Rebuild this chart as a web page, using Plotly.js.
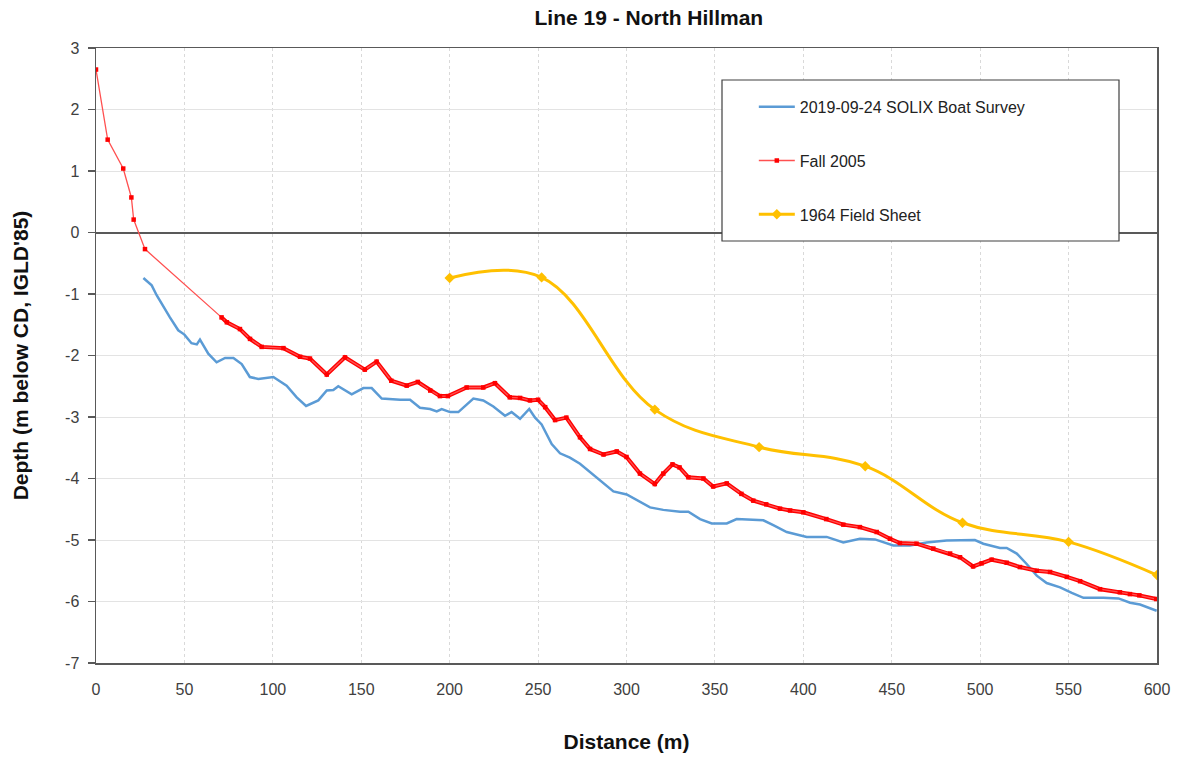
<!DOCTYPE html>
<html>
<head>
<meta charset="utf-8">
<script src="https://cdn.plot.ly/plotly-3.0.1.min.js"></script>
<style>html,body{margin:0;padding:0;background:#fff;}#chart{width:1184px;height:759px;}</style>
</head>
<body>
<div id="chart"></div>
<script>
// Distance (m) and depth (m below CD, IGLD'85)
const solixDistance = [26.8,31.5,34.3,37.1,41.8,46.5,50,54,57,58.8,63.5,68.2,73,77.7,82.4,87,91.8,100.3,107.8,113.5,118.8,125.7,130.5,134.2,137,144.6,151.2,155.9,161.6,172,177.6,183.2,188.9,192.7,195.5,200.2,204.9,213.4,219,224.7,231.3,235,239.8,245,248.3,252,254.8,257.7,262.4,268,273.7,278.4,285,292.6,300.1,307.6,313.3,320.8,330.3,335,341.6,348.2,356.7,362.3,369.8,377.4,383,390.6,401.9,413.2,422.6,432,440.5,450.9,460.3,469.7,481,488.6,497,501.8,511.2,515,520.7,526.3,532,537.6,545.2,551.8,558.4,569.7,578.2,584.8,590.4,599.8];
const solixDepth = [-0.74,-0.86,-1.02,-1.16,-1.38,-1.59,-1.66,-1.8,-1.82,-1.74,-1.97,-2.11,-2.04,-2.04,-2.14,-2.35,-2.38,-2.35,-2.49,-2.68,-2.82,-2.73,-2.57,-2.56,-2.5,-2.63,-2.53,-2.53,-2.7,-2.72,-2.72,-2.85,-2.87,-2.91,-2.87,-2.92,-2.92,-2.7,-2.73,-2.83,-2.98,-2.92,-3.03,-2.87,-3.01,-3.12,-3.27,-3.44,-3.59,-3.66,-3.76,-3.87,-4.03,-4.21,-4.26,-4.38,-4.47,-4.51,-4.54,-4.54,-4.66,-4.73,-4.73,-4.66,-4.67,-4.68,-4.76,-4.87,-4.95,-4.95,-5.04,-4.98,-4.99,-5.09,-5.09,-5.04,-5.01,-5.01,-5.0,-5.06,-5.13,-5.13,-5.22,-5.39,-5.58,-5.70,-5.77,-5.86,-5.94,-5.94,-5.95,-6.02,-6.05,-6.15];

const fall2005Distance = [0,6.6,15.4,20,21.3,27.7,71,74,81.4,87.1,93.7,106,115.4,121,130.5,140.8,152,158.7,167,175.7,182,189,194.5,199,209.6,219,225.6,234,239.8,245.4,250,254,259.6,266,273.7,279.4,287,294.5,300,307.6,316,320.8,326,330,335,343.5,349,356.7,365,371.7,379,386.8,392.5,400,413,422.6,432,441.5,449,454.6,464,473.5,483,488.6,496,500.8,506.5,515,522.5,532,539.5,549,556.5,567.8,579,584.7,590,599.6];
const fall2005Depth = [2.65,1.51,1.04,0.57,0.21,-0.27,-1.38,-1.46,-1.57,-1.73,-1.86,-1.88,-2.02,-2.05,-2.31,-2.03,-2.23,-2.1,-2.41,-2.49,-2.43,-2.57,-2.66,-2.66,-2.52,-2.52,-2.45,-2.68,-2.69,-2.73,-2.72,-2.84,-3.05,-3.01,-3.33,-3.52,-3.61,-3.56,-3.65,-3.92,-4.09,-3.92,-3.77,-3.82,-3.98,-4.0,-4.13,-4.08,-4.25,-4.36,-4.42,-4.49,-4.52,-4.55,-4.66,-4.75,-4.79,-4.87,-4.98,-5.05,-5.06,-5.14,-5.22,-5.28,-5.43,-5.38,-5.32,-5.37,-5.44,-5.5,-5.52,-5.6,-5.67,-5.8,-5.85,-5.88,-5.9,-5.96];
const fall2005DenseStart = 6; // survey becomes dense from 71 m

const field1964Distance = [200,252,316,375,435,490,550,600];
const field1964Depth = [-0.74,-0.73,-2.88,-3.49,-3.8,-4.72,-5.03,-5.57];

const yTickValues = [-7,-6,-5,-4,-3,-2,-1,0,1,2,3];
const yTickLabels = ["-7","-6","-5","-4","-3","-2","-1","0","1","2","3"];

const seriesNames = ["2019-09-24 SOLIX Boat Survey", "Fall 2005", "1964 Field Sheet"];
const chartTitle = "Line 19 - North Hillman";
const xTitle = "Distance (m)";
const yTitle = "Depth (m below CD, IGLD'85)";

const font = "Liberation Sans, Arial, sans-serif";
const tickColor = "#404040";

const traces = [
  {
    x: field1964Distance, y: field1964Depth, name: seriesNames[2], legendgroup: "c", legendrank: 3,
    mode: "lines+markers", type: "scatter",
    line: {color: "#FFC000", width: 3, shape: "spline", smoothing: 1.1},
    marker: {color: "#FFC000", size: 8, symbol: "diamond"}
  },
  {
    x: solixDistance, y: solixDepth, name: seriesNames[0], legendgroup: "a", legendrank: 1,
    mode: "lines", type: "scatter",
    line: {color: "#5B9BD5", width: 2.5}
  },
  {
    x: fall2005Distance.slice(fall2005DenseStart), y: fall2005Depth.slice(fall2005DenseStart),
    showlegend: false, hoverinfo: "skip", mode: "lines", type: "scatter",
    line: {color: "#FF0000", width: 4}
  },
  {
    x: fall2005Distance, y: fall2005Depth, name: seriesNames[1], legendgroup: "b", legendrank: 2,
    mode: "lines+markers", type: "scatter",
    line: {color: "#FF5050", width: 1.3},
    marker: {color: "#FF0000", size: 4.5, symbol: "square"}
  }
];

const layout = {
  width: 1184, height: 759,
  margin: {l: 96, r: 27, t: 48, b: 96},
  paper_bgcolor: "#fff", plot_bgcolor: "#fff",
  font: {family: font, color: "#222"},
  title: {text: "<b>" + chartTitle + "</b>", x: 0.548, xanchor: "center", y: 0.977, yanchor: "middle",
          font: {family: font, size: 21, color: "#111"}},
  xaxis: {
    range: [0, 600], dtick: 50, tick0: 0, showgrid: true, gridcolor: "#d9d9d9", griddash: "dot", gridwidth: 1,
    ticks: "", ticklabelstandoff: 11, showline: true, linecolor: "#595959", linewidth: 1.5, mirror: true,
    zeroline: false, tickfont: {family: font, size: 16, color: tickColor},
    title: {text: "<b>" + xTitle + "</b>", font: {family: font, size: 21, color: "#111"}, standoff: 37}
  },
  yaxis: {
    range: [-7, 3], tickmode: "array", tickvals: yTickValues, ticktext: yTickLabels,
    showgrid: true, gridcolor: "#e3e3e3", gridwidth: 1,
    ticks: "outside", ticklen: 7, tickcolor: "#595959", tickwidth: 1.2, ticklabelstandoff: 5,
    showline: true, linecolor: "#595959", linewidth: 1.5, mirror: true,
    zeroline: true, zerolinecolor: "#595959", zerolinewidth: 2,
    tickfont: {family: font, size: 16, color: tickColor},
    title: {text: "<b>" + yTitle + "</b>", font: {family: font, size: 21, color: "#111"}, standoff: 30}
  },
  showlegend: true,
  legend: {
    x: 0.62, y: 0.932, xanchor: "left", yanchor: "top",
    bgcolor: "rgba(0,0,0,0)", borderwidth: 0,
    font: {family: font, size: 16, color: "#222"},
    traceorder: "grouped", tracegroupgap: 30, itemwidth: 36
  },
  shapes: [{
    type: "rect", xref: "paper", yref: "paper", layer: "above",
    x0: (722 - 96) / 1061, x1: (1119 - 96) / 1061, y0: (663 - 241) / 615, y1: (663 - 80) / 615,
    line: {color: "#404040", width: 1.2}, fillcolor: "#fff"
  }]
};

Plotly.newPlot("chart", traces, layout, {staticPlot: true, displayModeBar: false});
</script>
</body>
</html>
